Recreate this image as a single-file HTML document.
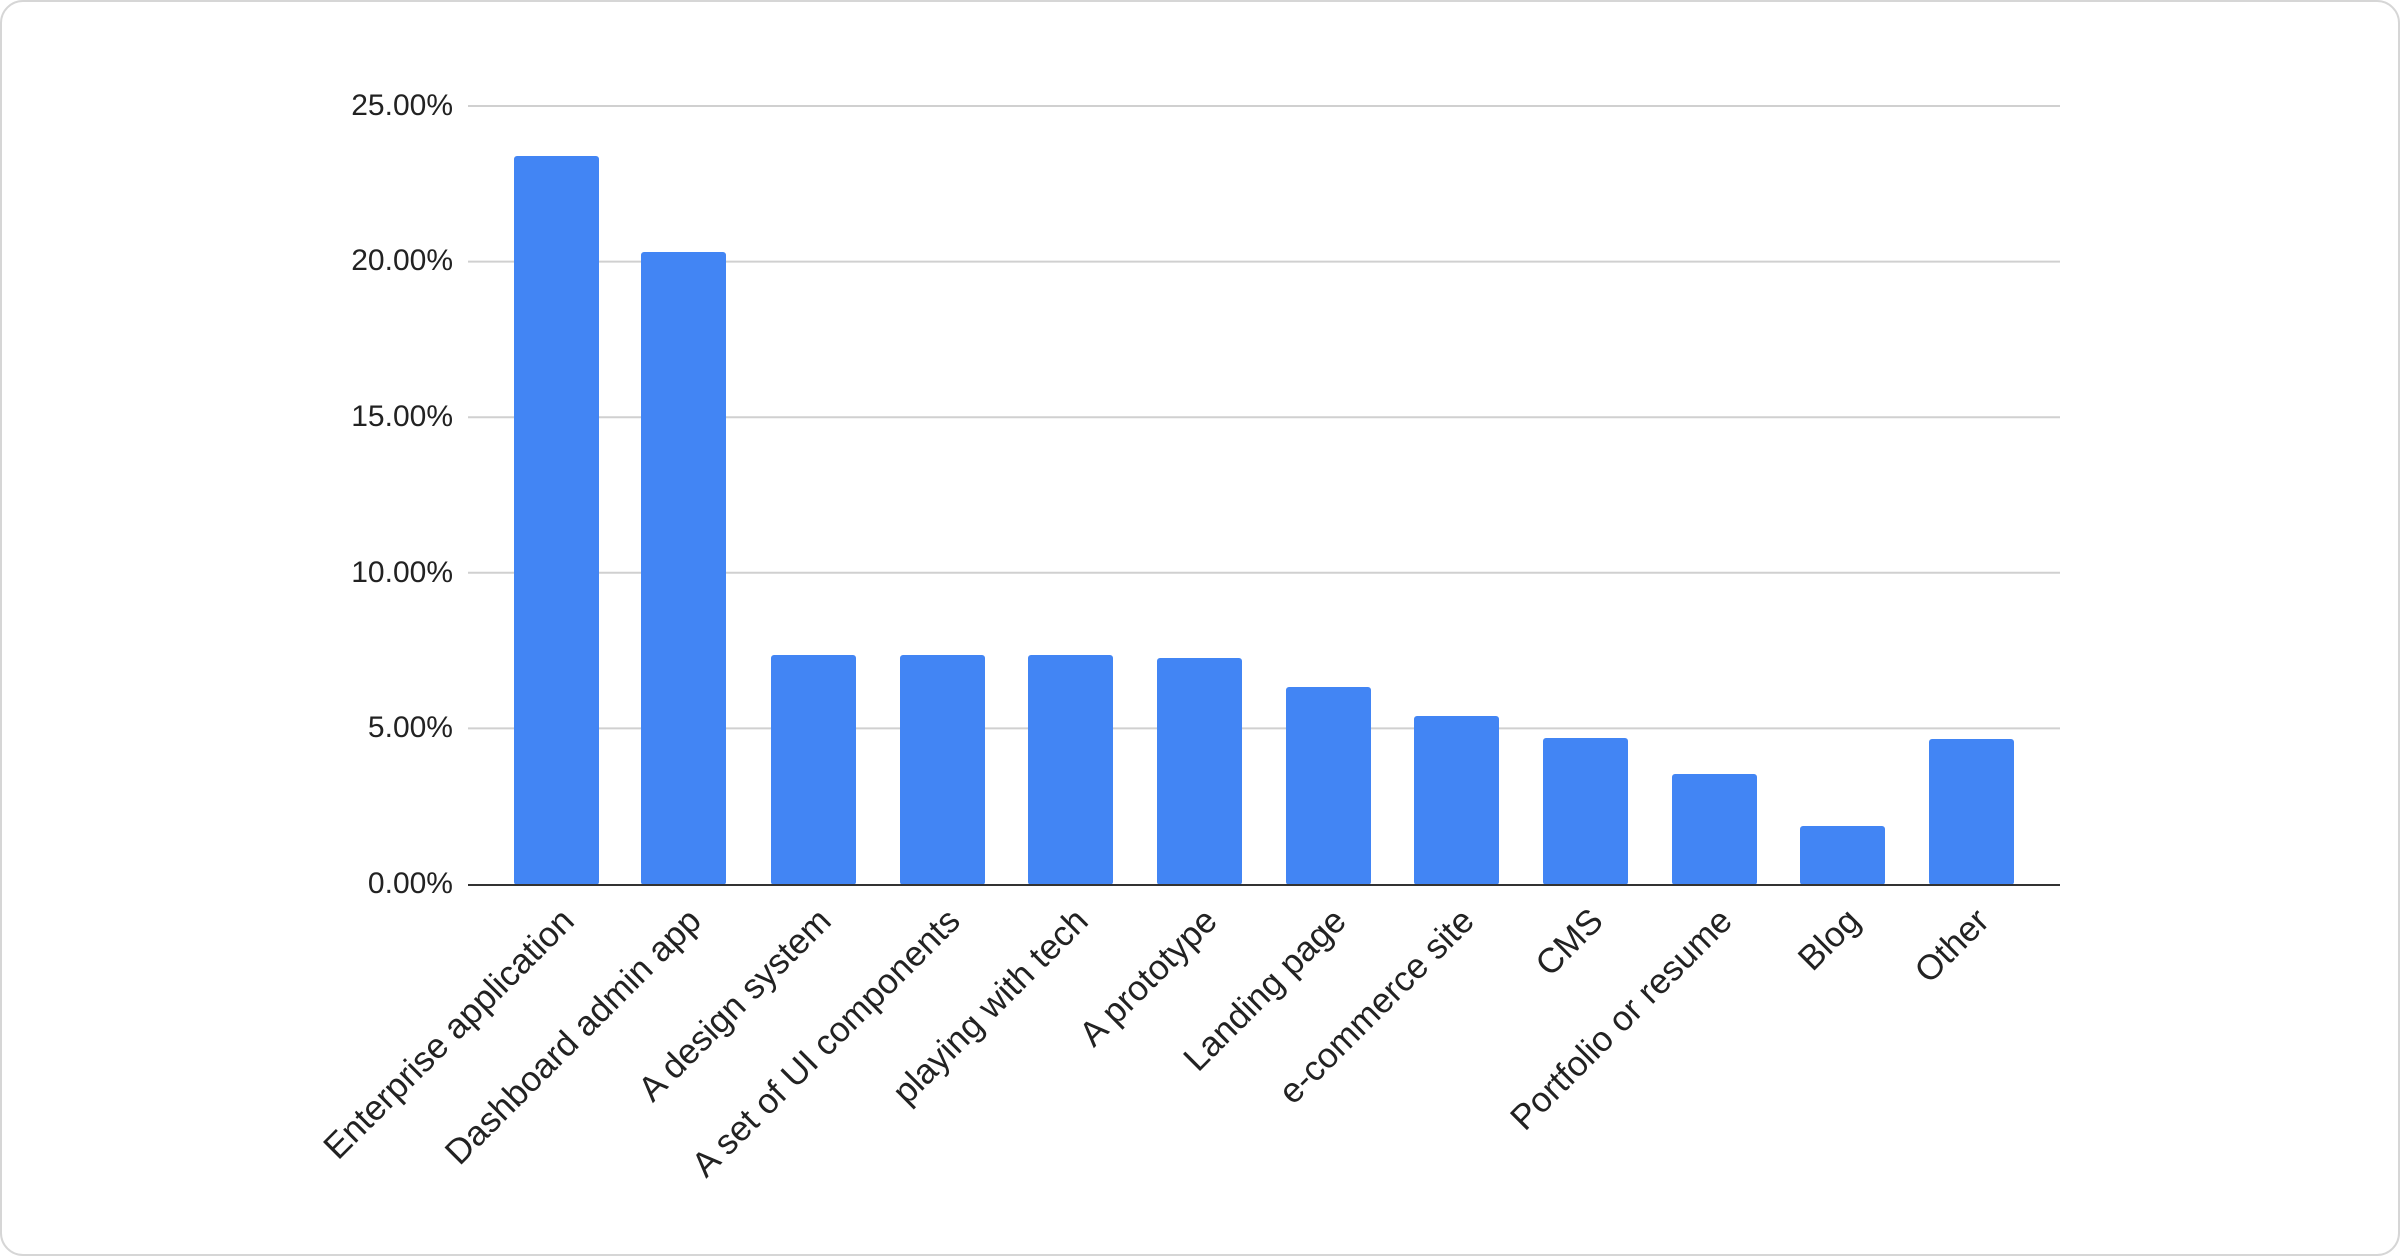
<!DOCTYPE html>
<html><head><meta charset="utf-8"><style>
html,body{margin:0;padding:0;background:#fff;}
svg{display:block;}
text{font-family:"Liberation Sans",Arial,sans-serif;fill:#222;}
</style></head><body>
<svg width="2400" height="1256" viewBox="0 0 2400 1256" xmlns="http://www.w3.org/2000/svg">
<rect x="1" y="1" width="2398" height="1254" rx="22" ry="22" fill="#fff" stroke="#d6d6d6" stroke-width="2"/>
<g stroke="#d0d0d0" stroke-width="2">
<line x1="468" x2="2060" y1="106" y2="106"/>
<line x1="468" x2="2060" y1="261.6" y2="261.6"/>
<line x1="468" x2="2060" y1="417.2" y2="417.2"/>
<line x1="468" x2="2060" y1="572.8" y2="572.8"/>
<line x1="468" x2="2060" y1="728.4" y2="728.4"/>
</g>
<g font-size="30" text-anchor="end">
<text x="453" y="115">25.00%</text>
<text x="453" y="270">20.00%</text>
<text x="453" y="426">15.00%</text>
<text x="453" y="582">10.00%</text>
<text x="453" y="737">5.00%</text>
<text x="453" y="893">0.00%</text>
</g>
<g fill="#4285f4">
<rect x="514" y="156" width="85" height="729" rx="3"/>
<rect x="641" y="252" width="85" height="633" rx="3"/>
<rect x="771" y="655" width="85" height="230" rx="3"/>
<rect x="900" y="655" width="85" height="230" rx="3"/>
<rect x="1028" y="655" width="85" height="230" rx="3"/>
<rect x="1157" y="658" width="85" height="227" rx="3"/>
<rect x="1286" y="687" width="85" height="198" rx="3"/>
<rect x="1414" y="716" width="85" height="169" rx="3"/>
<rect x="1543" y="738" width="85" height="147" rx="3"/>
<rect x="1672" y="774" width="85" height="111" rx="3"/>
<rect x="1800" y="826" width="85" height="59" rx="3"/>
<rect x="1929" y="739" width="85" height="146" rx="3"/>
</g>
<line x1="468" x2="2060" y1="885" y2="885" stroke="#333" stroke-width="2"/>
<g font-size="35" text-anchor="end">
<text transform="translate(576,923) rotate(-45)">Enterprise application</text>
<text transform="translate(703,923) rotate(-45)">Dashboard admin app</text>
<text transform="translate(833,923) rotate(-45)">A design system</text>
<text transform="translate(962,923) rotate(-45)">A set of UI components</text>
<text transform="translate(1090,923) rotate(-45)">playing with tech</text>
<text transform="translate(1219,923) rotate(-45)">A prototype</text>
<text transform="translate(1348,923) rotate(-45)">Landing page</text>
<text transform="translate(1476,923) rotate(-45)">e-commerce site</text>
<text transform="translate(1605,923) rotate(-45)">CMS</text>
<text transform="translate(1734,923) rotate(-45)">Portfolio or resume</text>
<text transform="translate(1862,923) rotate(-45)">Blog</text>
<text transform="translate(1991,923) rotate(-45)">Other</text>
</g>
</svg>
</body></html>
